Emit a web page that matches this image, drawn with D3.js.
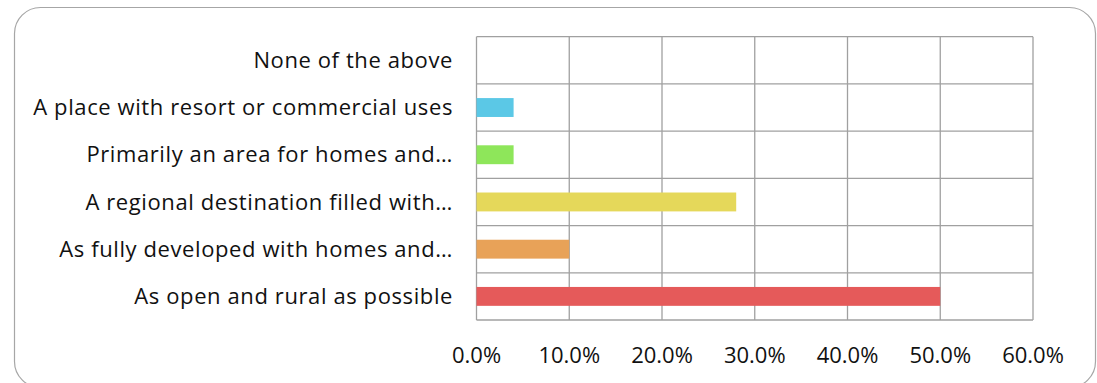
<!DOCTYPE html>
<html>
<head>
<meta charset="utf-8">
<script src="https://cdn.jsdelivr.net/npm/d3@7"></script>
<style>
  body { margin: 0; background: #fff; }
  text { font-family: "Open Sans", "Noto Sans", sans-serif; fill: #111; }
</style>
</head>
<body>
<svg width="1097" height="383"></svg>
<script>
// categories top to bottom
const categories = [
  "None of the above",
  "A place with resort or commercial uses",
  "Primarily an area for homes and\u2026",
  "A regional destination filled with\u2026",
  "As fully developed with homes and\u2026",
  "As open and rural as possible"
];
const values = [0, 0.04, 0.04, 0.28, 0.10, 0.50];
const colors = ["#5b9bd5", "#5bc8e6", "#8ee65a", "#e5d85a", "#e8a258", "#e55a5a"];
const ticks = [0, 0.1, 0.2, 0.3, 0.4, 0.5, 0.6];

const svg = d3.select("svg");

// outer frame
svg.append("rect")
  .attr("x", 14.5).attr("y", 7.5)
  .attr("width", 1081).attr("height", 380)
  .attr("rx", 26).attr("ry", 26)
  .attr("fill", "none")
  .attr("stroke", "#a6a6a6")
  .attr("stroke-width", 1.2);

let x = d3.scaleLinear().domain([0, 0.6]).range([476.5, 1033]);
let y = d3.scaleBand().domain(categories).range([36.7, 320]).paddingInner(0).paddingOuter(0);

let grid = svg.append("g");

// vertical grid lines
grid.selectAll("line.v").data(ticks).enter().append("line")
  .attr("class", "v")
  .attr("x1", d => x(d)).attr("x2", d => x(d))
  .attr("y1", y.range()[0]).attr("y2", y.range()[1])
  .attr("stroke", "#a0a0a0").attr("stroke-width", 1.3);

// horizontal grid lines at band edges
let edges = categories.map(c => y(c)).concat([y.range()[1]]);
grid.selectAll("line.h").data(edges).enter().append("line")
  .attr("class", "h")
  .attr("x1", x(0)).attr("x2", x(0.6))
  .attr("y1", d => d).attr("y2", d => d)
  .attr("stroke", "#a0a0a0").attr("stroke-width", 1.3);

// bars
let barH = y.bandwidth() * 0.4;
svg.selectAll("rect.bar").data(categories).enter().append("rect")
  .attr("class", "bar")
  .attr("x", x(0))
  .attr("y", d => y(d) + (y.bandwidth() - barH) / 2)
  .attr("width", (d, i) => x(values[i]) - x(0))
  .attr("height", barH)
  .attr("fill", (d, i) => colors[i]);

// category labels
svg.selectAll("text.cat").data(categories).enter().append("text")
  .attr("class", "cat")
  .attr("x", 453)
  .attr("y", d => y(d) + y.bandwidth() / 2)
  .attr("dy", "0.35em")
  .attr("text-anchor", "end")
  .style("font-size", "22px")
  .style("letter-spacing", "0.6px")
  .text(d => d);

// x tick labels
svg.selectAll("text.tick").data(ticks).enter().append("text")
  .attr("class", "tick")
  .attr("x", d => x(d))
  .attr("y", 355)
  .attr("dy", "0.35em")
  .attr("text-anchor", "middle")
  .style("font-size", "22px")
  .text(d => d3.format(".1%")(d));
</script>
</body>
</html>
